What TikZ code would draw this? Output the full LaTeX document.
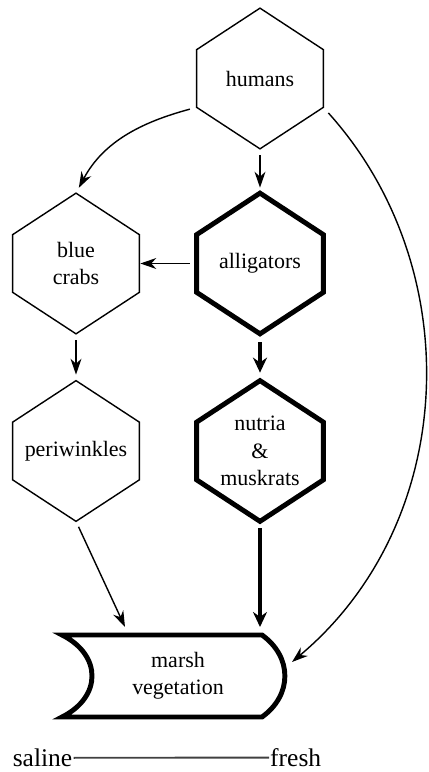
\documentclass[tikz,border=0pt]{standalone}
\usepackage{fontspec}
\setmainfont{Liberation Serif}
\usetikzlibrary{arrows.meta,calc}

\begin{document}
\begin{tikzpicture}[>=Stealth,
  hexnode/.style={minimum width=2.52cm,minimum height=2.8cm,inner sep=0pt,align=center,
    font=\fontsize{12.5}{15.5}\selectfont},
  thinline/.style={line width=0.8pt},
  thickline/.style={line width=2.8pt},
  thinarr/.style={thinline,-{Stealth[length=3.2mm,width=2.2mm]}},
  thickarr/.style={thickline,-{Stealth[length=3mm,width=2.8mm]}}]
  \useasboundingbox (0,0) rectangle (8.56,15.44);
  % the web
  \node[hexnode] (humans)      at (5.2,13.87) {humans};
  \node[hexnode] (crabs)       at (1.52,10.17) {blue\\crabs};
  \node[hexnode] (alligators)  at (5.2,10.17) {alligators};
  \node[hexnode] (periwinkles) at (1.52,6.42) {periwinkles};
  \node[hexnode] (nutria)      at (5.2,6.42) {nutria\\\&\\muskrats};
  \node[font=\fontsize{12.5}{15.5}\selectfont,align=center] (marsh) at (3.56,1.92) {marsh\\vegetation};
  \foreach \h in {humans,crabs,periwinkles}
    \draw[thinline] (\h.north) -- ([yshift=-0.83cm]\h.north east) -- ([yshift=0.83cm]\h.south east)
      -- (\h.south) -- ([yshift=0.83cm]\h.south west) -- ([yshift=-0.83cm]\h.north west) -- cycle;
  \foreach \h in {alligators,nutria}
    \draw[thickline] (\h.north) -- ([yshift=-0.83cm]\h.north east) -- ([yshift=0.83cm]\h.south east)
      -- (\h.south) -- ([yshift=0.83cm]\h.south west) -- ([yshift=-0.83cm]\h.north west) -- cycle;
  \draw[thickline] (1.24,2.74) -- (5.24,2.74) .. controls (5.85,2.3) and (5.85,1.54) .. (5.24,1.1)
    -- (1.24,1.1) .. controls (2.04,1.5) and (2.04,2.34) .. (1.24,2.74) -- cycle;
  \coordinate (vegpw) at (2.5,2.9);
  \coordinate (vegnm) at (5.2,2.9);
  \coordinate (veghu) at (5.84,2.2);
  % who eats whom
  \draw[thinarr,shorten <=0.13cm,shorten >=0.11cm] (humans.south) -- (alligators.north);
  \draw[thinarr,shorten <=0.14cm,shorten >=0.12cm] ([yshift=0.83cm]humans.south west) to[out=195,in=62] (crabs.north);
  \draw[thinarr,shorten <=0.15cm] ([yshift=0.83cm]humans.south east) to[out=-48,in=40] (veghu);
  \draw[thinarr,shorten <=0.14cm,shorten >=0.02cm] (alligators.west) -- (crabs.east);
  \draw[thinarr,shorten <=0.13cm,shorten >=0.12cm] (crabs.south) -- (periwinkles.north);
  \draw[thickarr,shorten <=0.17cm,shorten >=0.16cm] (alligators.south) -- (nutria.north);
  \draw[thinarr,shorten <=0.12cm] (periwinkles.south) -- (vegpw);
  \draw[thickarr,shorten <=0.14cm] (nutria.south) -- (vegnm);
  % gradient
  \node[font=\fontsize{14.5}{17}\selectfont,anchor=base east,inner sep=0.5pt] (saline) at (1.47,0.11) {saline};
  \node[font=\fontsize{14.5}{17}\selectfont,anchor=base west,inner sep=0.5pt] (fresh) at (5.38,0.11) {fresh};
  \draw[line width=1.1pt,black!75] (saline.east) -- (fresh.west);
\end{tikzpicture}
\end{document}
